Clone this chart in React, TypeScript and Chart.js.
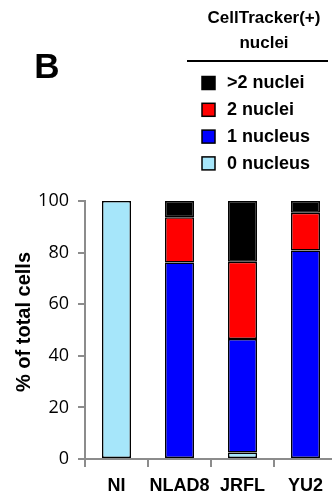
import React, { useEffect, useRef } from "react";
import { Chart, registerables } from "chart.js";

Chart.register(...registerables);

const categories = ["NI", "NLAD8", "JRFL", "YU2"];
const zeroNucleus = [100, null, 2.5, null];
const oneNucleus = [null, 76.2, 44, 80.8];
const twoNuclei = [null, 17.5, 30, 14.6];
const moreNuclei = [null, 6.3, 23.5, 4.6];
const yTicks = [0, 20, 40, 60, 80, 100];

const seriesLabels = ["0 nucleus", "1 nucleus", "2 nuclei", ">2 nuclei"];
const seriesColors = ["#a6e6fa", "#0000ff", "#ff0000", "#000000"];
const legendTitle = ["CellTracker(+)", "nuclei"];
const panelLetter = "B";
const yTitle = "% of total cells";

const BOLD = "'Liberation Sans', Arial, sans-serif";
const REG = "'Open Sans', 'Liberation Sans', sans-serif";

const overlayPlugin = {
  id: "overlay",
  afterDraw(chart: any) {
    const ctx = chart.ctx;
    ctx.save();
    ctx.fillStyle = "#000";
    ctx.font = `bold 35px ${BOLD}`;
    ctx.textAlign = "center";
    ctx.textBaseline = "middle";
    ctx.fillText(panelLetter, 47, 68);

    ctx.font = `bold 17px ${BOLD}`;
    ctx.fillText(legendTitle[0], 264, 18);
    ctx.fillText(legendTitle[1], 264, 43);

    ctx.strokeStyle = "#000";
    ctx.lineWidth = 2;
    ctx.beginPath();
    ctx.moveTo(187, 61);
    ctx.lineTo(328, 61);
    ctx.stroke();

    const ds = chart.data.datasets;
    ctx.textAlign = "left";
    ctx.font = `bold 18px ${BOLD}`;
    for (let i = 0; i < ds.length; i++) {
      const d = ds[ds.length - 1 - i];
      const y = 83 + i * 26.8;
      ctx.fillStyle = d.backgroundColor;
      ctx.fillRect(202, y - 6.5, 13, 13);
      ctx.lineWidth = 1.5;
      ctx.strokeStyle = "#000";
      ctx.strokeRect(202, y - 6.5, 13, 13);
      ctx.fillStyle = "#000";
      ctx.fillText(d.label, 227, y + 0.5);
    }

    // y-axis title
    ctx.save();
    ctx.translate(24, 322);
    ctx.rotate(-Math.PI / 2);
    ctx.textAlign = "center";
    ctx.font = `bold 20px ${BOLD}`;
    ctx.fillText(yTitle, 0, 0);
    ctx.restore();

    ctx.restore();
  },
};

export default function App() {
  const ref = useRef<HTMLCanvasElement>(null);
  useEffect(() => {
    if (!ref.current) return;
    const series = [zeroNucleus, oneNucleus, twoNuclei, moreNuclei];
    const chart = new Chart(ref.current, {
      type: "bar",
      data: {
        labels: categories,
        datasets: series.map((s, i) => ({
          label: seriesLabels[i],
          data: s,
          backgroundColor: seriesColors[i],
          borderColor: "#000",
          borderWidth: 1.5,
          borderSkipped: false,
          categoryPercentage: 1,
          barPercentage: 0.46,
        })),
      },
      options: {
        animation: false,
        responsive: false,
        devicePixelRatio: 1,
        layout: { padding: { top: 201, right: 3, left: 0, bottom: 0 } },
        plugins: { legend: { display: false }, tooltip: { enabled: false } },
        scales: {
          x: {
            stacked: true,
            afterFit: (s: any) => {
              s.height = 41;
            },
            border: { color: "#8c8c8c", width: 2 },
            grid: {
              display: true,
              offset: true,
              drawOnChartArea: false,
              drawTicks: true,
              tickLength: 8,
              color: "#8c8c8c",
              lineWidth: 2,
            },
            ticks: {
              color: "#000",
              padding: 8,
              autoSkip: false,
              maxRotation: 0,
              minRotation: 0,
              font: { family: BOLD, size: 18, weight: "bold" },
            },
          },
          y: {
            stacked: true,
            min: 0,
            max: 100,
            afterFit: (s: any) => {
              s.width = 85;
            },
            afterBuildTicks: (s: any) => {
              s.ticks = yTicks.map((v) => ({ value: v }));
            },
            border: { color: "#8c8c8c", width: 2 },
            grid: {
              display: true,
              drawOnChartArea: false,
              drawTicks: true,
              tickLength: 7,
              color: "#8c8c8c",
              lineWidth: 2,
            },
            ticks: {
              color: "#000",
              padding: 9,
              font: { family: REG, size: 18 },
            },
            title: { display: false },
          },
        },
      },
      plugins: [overlayPlugin],
    });
    return () => chart.destroy();
  }, []);

  return (
    <div
      style={{
        position: "absolute",
        left: 0,
        top: 0,
        width: 332,
        height: 500,
        overflow: "hidden",
        background: "#fff",
      }}
    >
      <canvas ref={ref} width={340} height={500} style={{ width: 340, height: 500, display: "block" }} />
    </div>
  );
}
